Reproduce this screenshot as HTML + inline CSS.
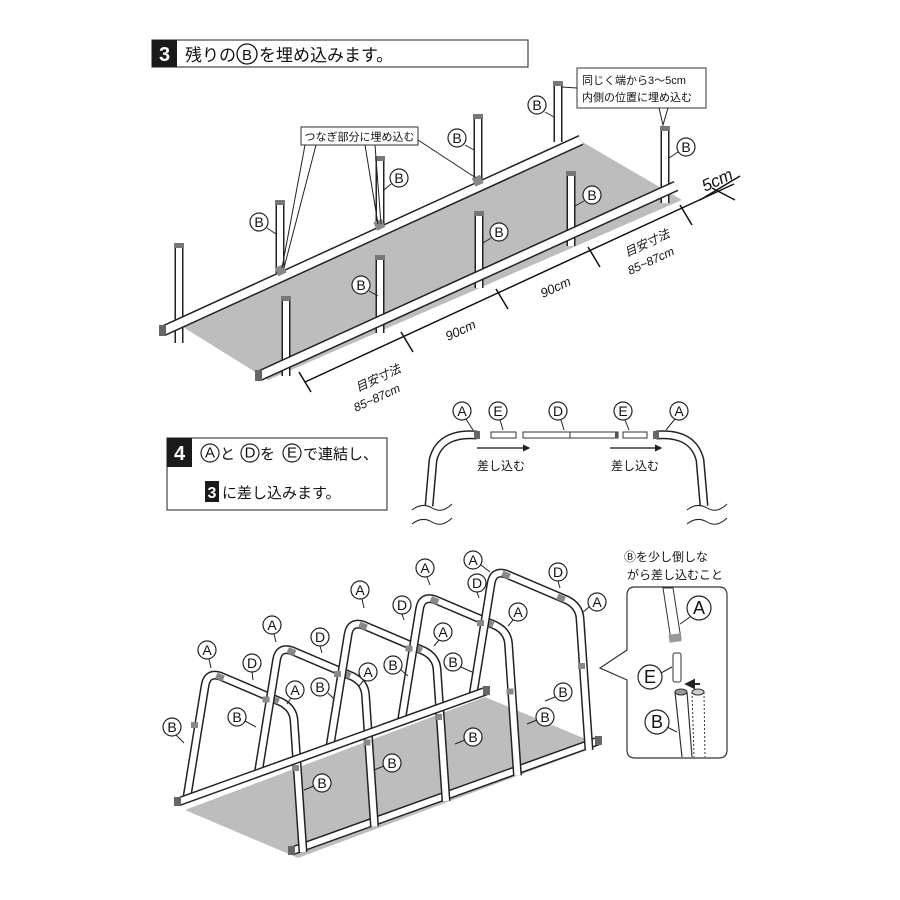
<!DOCTYPE html>
<html><head><meta charset="utf-8"><style>
html,body{margin:0;padding:0;background:#fff;}
svg{display:block;font-family:"Liberation Sans","Noto Sans CJK JP",sans-serif;}
.to{fill:none;stroke:#222;stroke-width:9;stroke-linecap:butt;stroke-linejoin:round}
.ti{fill:none;stroke:#fff;stroke-width:6;stroke-linecap:butt;stroke-linejoin:round}
.lb circle{fill:#fff;stroke:#222;stroke-width:1.2}
.lb text{font-size:14px;text-anchor:middle;dominant-baseline:central;fill:#111}
.ld{stroke:#222;stroke-width:1;fill:none}
</style></head><body>
<svg width="900" height="900" viewBox="0 0 900 900" xmlns="http://www.w3.org/2000/svg">
<defs>
<marker id="ah" markerWidth="6" markerHeight="6" refX="5" refY="3" orient="auto"><path d="M0,0 L6,3 L0,6 z" fill="#222"/></marker>
</defs>

<!-- ===== Section 3 ===== -->
<rect x="152" y="40" width="376" height="27" fill="#fff" stroke="#444" stroke-width="1.2"/>
<rect x="152" y="40" width="25" height="27" fill="#1a1a1a"/>
<text x="164.5" y="61" font-size="20" font-weight="bold" fill="#fff" text-anchor="middle">3</text>
<text x="185" y="61" font-size="17" fill="#111">残りの</text>
<circle cx="247" cy="54" r="10" fill="none" stroke="#111" stroke-width="1.3"/>
<text x="247" y="60" font-size="15" text-anchor="middle" fill="#111">B</text>
<text x="259" y="61" font-size="17" fill="#111">を埋め込みます。</text>

<polygon points="175,322 579,140 682,200 268,380" fill="#bdbdbd"/>

<g>
<path class="to" d="M179 245 V343"/><path class="ti" d="M179 245 V343"/>
<path class="to" d="M280 202 V273"/><path class="ti" d="M280 202 V273"/>
<path class="to" d="M380 158 V230"/><path class="ti" d="M380 158 V230"/>
<path class="to" d="M478 116 V180"/><path class="ti" d="M478 116 V180"/>
<path class="to" d="M558 83 V142"/><path class="ti" d="M558 83 V142"/>
</g>
<path class="to" d="M163 331 L581 140" style="stroke-width:11"/><path class="ti" d="M163 331 L581 140" style="stroke-width:8"/>
<g fill="#888"><rect x="276" y="266" width="9" height="9" transform="rotate(-24 280 270)"/><rect x="375" y="220" width="9" height="9" transform="rotate(-24 380 225)"/><rect x="473" y="176" width="9" height="9" transform="rotate(-24 478 180)"/></g>
<g>
<path class="to" d="M286 298 V376"/><path class="ti" d="M286 298 V376"/>
<path class="to" d="M380 257 V333"/><path class="ti" d="M380 257 V333"/>
<path class="to" d="M479 213 V288"/><path class="ti" d="M479 213 V288"/>
<path class="to" d="M571 173 V246"/><path class="ti" d="M571 173 V246"/>
<path class="to" d="M665 128 V203"/><path class="ti" d="M665 128 V203"/>
</g>
<g fill="#777"><rect x="174" y="243" width="10" height="5"/><rect x="275" y="200" width="10" height="5"/><rect x="375" y="156" width="10" height="5"/><rect x="473" y="114" width="10" height="5"/><rect x="553" y="81" width="10" height="5"/><rect x="281" y="296" width="10" height="5"/><rect x="375" y="255" width="10" height="5"/><rect x="474" y="211" width="10" height="5"/><rect x="566" y="171" width="10" height="5"/><rect x="660" y="126" width="10" height="5"/></g>
<path class="to" d="M259 376 L676 186" style="stroke-width:11"/><path class="ti" d="M259 376 L676 186" style="stroke-width:8"/>
<rect x="255" y="370" width="7" height="11" fill="#666"/>
<rect x="159" y="325" width="7" height="11" fill="#666"/>

<g class="lb">
<circle cx="259" cy="222" r="9"/><text x="259" y="222">B</text>
<circle cx="399" cy="178" r="9"/><text x="399" y="178">B</text>
<circle cx="457" cy="138" r="9"/><text x="457" y="138">B</text>
<circle cx="537" cy="105" r="9"/><text x="537" y="105">B</text>
<circle cx="686" cy="147" r="9"/><text x="686" y="147">B</text>
<circle cx="592" cy="195" r="9"/><text x="592" y="195">B</text>
<circle cx="499" cy="232" r="9"/><text x="499" y="232">B</text>
<circle cx="361" cy="285" r="9"/><text x="361" y="285">B</text>
</g>
<g class="ld"><path d="M267 228 L276 234"/><path d="M391 184 L384 190"/><path d="M465 145 L474 150"/><path d="M545 112 L554 117"/><path d="M678 152 L669 158"/><path d="M584 201 L575 206"/><path d="M491 238 L483 243"/><path d="M369 291 L378 296"/></g>

<rect x="301" y="127" width="117" height="18" fill="#fff" stroke="#333" stroke-width="1"/>
<text x="359.5" y="140.5" font-size="11" text-anchor="middle" fill="#111">つなぎ部分に埋め込む</text>
<g class="ld"><path d="M305 145 L282 268"/><path d="M316 145 L284 268"/><path d="M365 145 L378 224"/><path d="M375 145 L381 224"/><path d="M418 140 L476 178"/></g>
<rect x="577" y="68" width="129" height="40" fill="#fff" stroke="#333" stroke-width="1"/>
<text x="582" y="84" font-size="11" fill="#111">同じく端から3～5cm</text>
<text x="582" y="101" font-size="11" fill="#111">内側の位置に埋め込む</text>
<g class="ld"><path d="M659 108 L663 125 L668 108"/><path d="M577 88 L562 87"/></g>

<g stroke="#111" stroke-width="1.5" fill="none">
<path d="M305 382 L734 184"/>
<path d="M299 372 L311 392"/>
<path d="M401 332 L413 352"/>
<path d="M496 289 L508 309"/>
<path d="M588 247 L600 267"/>
<path d="M680 205 L692 225"/>
<path d="M700 200 L740 176"/>
<path d="M712 188 L735 200"/>
</g>
<text font-size="13" font-style="italic" fill="#111" transform="translate(448,341) rotate(-25)">90cm</text>
<text font-size="13" font-style="italic" fill="#111" transform="translate(543,298) rotate(-25)">90cm</text>
<text font-size="12" font-style="italic" fill="#111" transform="translate(627,257) rotate(-25)">目安寸法</text>
<text font-size="12" font-style="italic" fill="#111" transform="translate(630,275) rotate(-25)">85~87cm</text>
<text font-size="12" font-style="italic" fill="#111" transform="translate(358,392) rotate(-25)">目安寸法</text>
<text font-size="12" font-style="italic" fill="#111" transform="translate(356,412) rotate(-25)">85~87cm</text>
<text font-size="17" font-style="italic" fill="#111" transform="translate(705,192) rotate(-25)">5cm</text>

<!-- ===== Section 4 ===== -->
<rect x="167" y="438" width="220" height="72" fill="#fff" stroke="#444" stroke-width="1.2"/>
<rect x="167" y="438" width="25" height="29" fill="#1a1a1a"/>
<text x="179.5" y="460" font-size="20" font-weight="bold" fill="#fff" text-anchor="middle">4</text>
<g class="lb"><circle cx="210" cy="453" r="9"/><text x="210" y="453" style="font-size:15px">A</text>
<circle cx="250" cy="453" r="9"/><text x="250" y="453" style="font-size:15px">D</text>
<circle cx="292" cy="453" r="9"/><text x="292" y="453" style="font-size:15px">E</text></g>
<text x="220" y="459" font-size="15" fill="#111">と</text>
<text x="260" y="459" font-size="15" fill="#111">を</text>
<text x="303" y="459" font-size="15" fill="#111">で連結し、</text>
<rect x="205" y="481" width="14" height="21" fill="#1a1a1a"/>
<text x="212" y="498" font-size="16" font-weight="bold" fill="#fff" text-anchor="middle">3</text>
<text x="222" y="498" font-size="15" fill="#111">に差し込みます。</text>

<path class="to" d="M477 435 Q440 432 433 460 L429 506"/><path class="ti" d="M477 435 Q440 432 433 460 L429 506"/>
<path class="to" d="M656 435 Q693 432 700 460 L704 506"/><path class="ti" d="M656 435 Q693 432 700 460 L704 506"/>
<rect x="474" y="431" width="6" height="8" fill="#666"/><rect x="653" y="431" width="6" height="8" fill="#666"/>
<rect x="491" y="432" width="25" height="6" fill="#fff" stroke="#333"/>
<rect x="523" y="432" width="95" height="6" fill="#fff" stroke="#333"/><path d="M570 432 V438" stroke="#333"/>
<rect x="615" y="432" width="3" height="6" fill="#555"/>
<rect x="623" y="432" width="24" height="6" fill="#fff" stroke="#333"/>
<g class="ld" stroke-width="1.2">
<path d="M412 510 Q422 502 432 508 T452 504"/><path d="M412 524 Q422 516 432 522 T452 518"/>
<path d="M687 510 Q697 502 707 508 T727 504"/><path d="M687 524 Q697 516 707 522 T727 518"/>
</g>
<path d="M477 448 H529" stroke="#111" stroke-width="1.2" marker-end="url(#ah)"/>
<path d="M610 448 H661" stroke="#111" stroke-width="1.2" marker-end="url(#ah)"/>
<text x="477" y="470" font-size="12" fill="#111">差し込む</text>
<text x="611" y="470" font-size="12" fill="#111">差し込む</text>
<g class="lb">
<circle cx="462" cy="411" r="9"/><text x="462" y="411">A</text>
<circle cx="498" cy="411" r="9"/><text x="498" y="411">E</text>
<circle cx="558" cy="411" r="9"/><text x="558" y="411">D</text>
<circle cx="623" cy="411" r="9"/><text x="623" y="411">E</text>
<circle cx="679" cy="411" r="9"/><text x="679" y="411">A</text>
</g>
<g class="ld"><path d="M466 419 L473 430"/><path d="M500 420 L503 430"/><path d="M561 420 L564 430"/><path d="M625 420 L629 430"/><path d="M675 419 L666 430"/></g>

<!-- ===== Section 5 ===== -->
<polygon points="185,810 485,697 600,745 298,858" fill="#bdbdbd"/>
<path class="to" d="M292 851 L598 741"/><path class="ti" d="M292 851 L598 741"/>
<rect x="288" y="846" width="7" height="9" fill="#666"/><rect x="595" y="736" width="7" height="9" fill="#666"/>

<g id="arch">
<path class="to" d="M187 797 L205 686 Q207 672 220 676 L281 702 Q293 708 294 720 L303 852"/>
<path class="ti" d="M187 797 L205 686 Q207 672 220 676 L281 702 Q293 708 294 720 L303 852"/>
<g fill="#888"><rect x="191" y="722" width="7" height="6"/><rect x="216" y="674" width="8" height="6" transform="rotate(23 220 677)"/><rect x="271" y="697" width="8" height="6" transform="rotate(23 275 700)"/><rect x="292" y="765" width="7" height="6"/></g>
</g>
<use href="#arch" transform="translate(71.5,-25.5)"/>
<use href="#arch" transform="translate(143,-51)"/>
<use href="#arch" transform="translate(214.5,-76.5)"/>
<use href="#arch" transform="translate(286,-102)"/>

<path class="to" d="M178 802 L486 691"/><path class="ti" d="M178 802 L486 691"/>
<rect x="174" y="797" width="7" height="9" fill="#666"/><rect x="483" y="686" width="7" height="9" fill="#666"/>

<g class="lb">
<circle cx="207" cy="650" r="9"/><text x="207" y="650">A</text>
<circle cx="272" cy="625" r="9"/><text x="272" y="625">A</text>
<circle cx="360" cy="590" r="9"/><text x="360" y="590">A</text>
<circle cx="425" cy="568" r="9"/><text x="425" y="568">A</text>
<circle cx="473" cy="560" r="9"/><text x="473" y="560">A</text>
<circle cx="295" cy="690" r="9"/><text x="295" y="690">A</text>
<circle cx="368" cy="672" r="9"/><text x="368" y="672">A</text>
<circle cx="443" cy="632" r="9"/><text x="443" y="632">A</text>
<circle cx="518" cy="612" r="9"/><text x="518" y="612">A</text>
<circle cx="597" cy="602" r="9"/><text x="597" y="602">A</text>
<circle cx="252" cy="663" r="9"/><text x="252" y="663">D</text>
<circle cx="320" cy="637" r="9"/><text x="320" y="637">D</text>
<circle cx="402" cy="605" r="9"/><text x="402" y="605">D</text>
<circle cx="477" cy="583" r="9"/><text x="477" y="583">D</text>
<circle cx="558" cy="572" r="9"/><text x="558" y="572">D</text>
<circle cx="172" cy="727" r="9"/><text x="172" y="727">B</text>
<circle cx="237" cy="717" r="9"/><text x="237" y="717">B</text>
<circle cx="320" cy="687" r="9"/><text x="320" y="687">B</text>
<circle cx="393" cy="665" r="9"/><text x="393" y="665">B</text>
<circle cx="453" cy="662" r="9"/><text x="453" y="662">B</text>
<circle cx="563" cy="692" r="9"/><text x="563" y="692">B</text>
<circle cx="545" cy="717" r="9"/><text x="545" y="717">B</text>
<circle cx="473" cy="737" r="9"/><text x="473" y="737">B</text>
<circle cx="392" cy="763" r="9"/><text x="392" y="763">B</text>
<circle cx="322" cy="783" r="9"/><text x="322" y="783">B</text>
</g>
<g class="ld">
<path d="M209 659 L211 668"/><path d="M274 634 L276 642"/><path d="M362 599 L364 608"/><path d="M427 577 L430 585"/><path d="M481 565 L490 572"/>
<path d="M291 698 L287 704"/><path d="M364 680 L359 686"/><path d="M439 640 L434 646"/><path d="M513 620 L508 626"/><path d="M589 607 L582 613"/>
<path d="M252 672 L253 680"/><path d="M320 646 L322 653"/><path d="M402 614 L404 620"/><path d="M477 592 L479 598"/><path d="M558 581 L560 588"/>
<path d="M176 735 L184 743"/><path d="M245 721 L256 727"/><path d="M328 693 L334 699"/><path d="M401 670 L408 676"/><path d="M461 667 L472 672"/>
<path d="M555 697 L545 701"/><path d="M537 720 L527 724"/><path d="M465 740 L455 744"/><path d="M384 766 L374 770"/><path d="M314 786 L304 790"/>
</g>

<!-- inset -->
<text x="624" y="561" font-size="12" fill="#111">Ⓑを少し倒しな</text>
<text x="627" y="579" font-size="12" fill="#111">がら差し込むこと</text>
<path d="M635 587 H719 Q727 587 727 595 V750 Q727 758 719 758 H635 Q627 758 627 750 V680 L600 668 L627 650 V595 Q627 587 635 587 Z" fill="#fff" stroke="#333" stroke-width="1.2"/>
<path d="M663 588 L671 640 L681 639 L673 588 Z" fill="#fff" stroke="#333"/>
<rect x="669" y="634" width="12" height="8" fill="#999" transform="rotate(-8 675 638)"/>
<rect x="673" y="653" width="8" height="29" rx="2" fill="#fff" stroke="#333"/>
<path d="M675 692 L682 757 M687 692 L692 757" stroke="#333" stroke-width="1.2"/>
<ellipse cx="681" cy="692" rx="6" ry="3" fill="#999" stroke="#333"/>
<path d="M692 692 L694 757 M704 692 L705 757" stroke="#333" stroke-width="1" stroke-dasharray="2,2"/>
<ellipse cx="698" cy="692" rx="6" ry="3" fill="#ccc" stroke="#333"/>
<path d="M700 684 H686" stroke="#111" stroke-width="1.8" marker-end="url(#ah)"/>
<g class="lb">
<circle cx="699" cy="608" r="12"/><text x="699" y="608" style="font-size:18px">A</text>
<circle cx="650" cy="677" r="12"/><text x="650" y="677" style="font-size:18px">E</text>
<circle cx="657" cy="722" r="12"/><text x="657" y="722" style="font-size:18px">B</text>
</g>
<g class="ld"><path d="M690 617 L680 624"/><path d="M661 673 L672 667"/><path d="M667 727 L677 732"/></g>
</svg>
</body></html>
